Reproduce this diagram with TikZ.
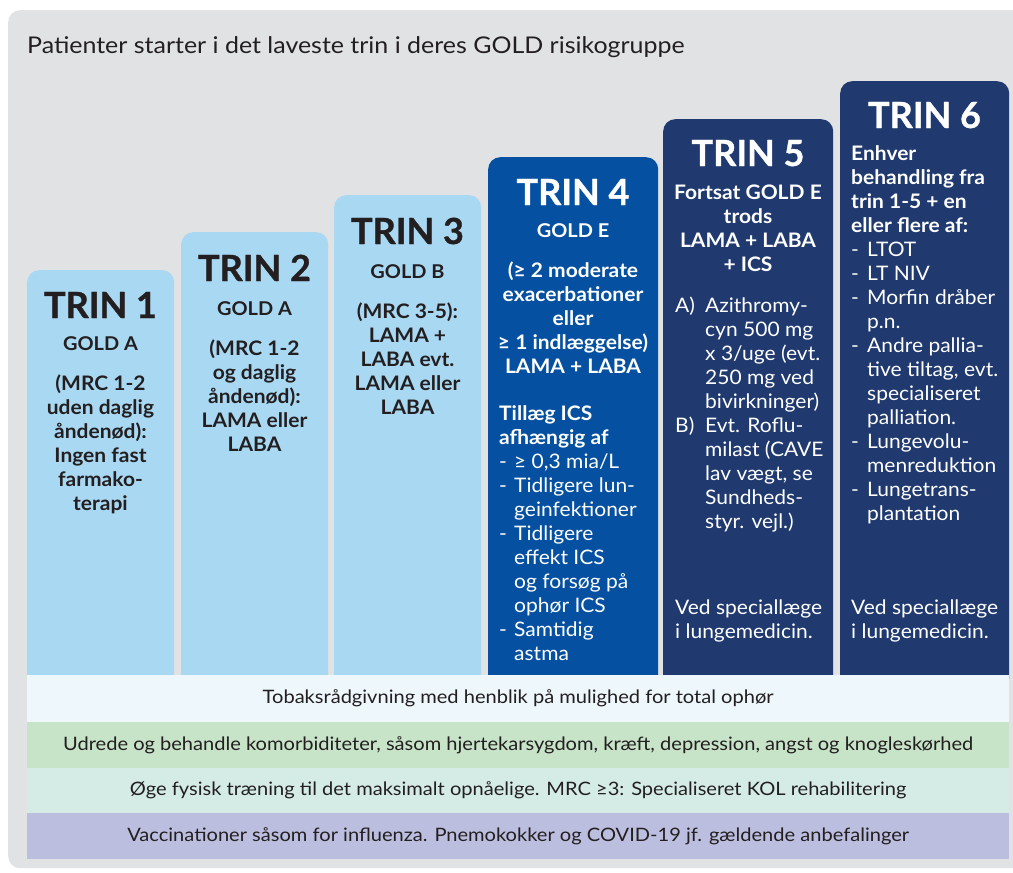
\documentclass[tikz,border=0pt]{standalone}
\usepackage{fontspec}
\setmainfont{Lato}
\newfontfamily\widefont[FakeStretch=1.085]{Lato}
\newfontfamily\bodyfont[FakeStretch=1.05]{Lato}
\newfontfamily\headfont[BoldFeatures={FakeBold=0.9}]{Lato}
\newcommand{\clines}[1]{\begin{tabular}[t]{@{}c@{}}#1\end{tabular}}
\newcommand{\llines}[1]{\begin{tabular}[t]{@{}l@{}}#1\end{tabular}}
\definecolor{panelgray}{RGB}{225,226,228}
\definecolor{lightblue}{RGB}{169,216,243}
\definecolor{midblue}{RGB}{5,80,160}
\definecolor{navy}{RGB}{32,58,112}
\definecolor{darktext}{RGB}{35,31,32}
\definecolor{bandA}{RGB}{238,247,252}
\definecolor{bandB}{RGB}{199,227,200}
\definecolor{bandC}{RGB}{213,236,230}
\definecolor{bandD}{RGB}{188,190,223}
\tikzset{
  colbox/.style={anchor=north west,inner sep=0pt,rounded corners=12pt},
  band/.style={anchor=north west,inner sep=0pt,minimum width=982pt,text=darktext,font=\widefont\fontsize{18.5}{22}\selectfont},
  heading/.style={anchor=base,inner sep=0pt,font=\headfont\bfseries\fontsize{36}{40}\selectfont},
  gold/.style={anchor=base,inner sep=0pt,font=\bodyfont\bfseries\fontsize{19}{24}\selectfont},
  cblock/.style={anchor=base,inner sep=0pt,font=\bodyfont\bfseries\fontsize{20}{24}\selectfont},
  lblock/.style={anchor=base west,inner sep=0pt,font=\bodyfont\bfseries\fontsize{20}{24}\selectfont},
  rblock/.style={anchor=base west,inner sep=0pt,font=\bodyfont\fontsize{20}{24}\selectfont},
}
\begin{document}
\begin{tikzpicture}[x=1pt,y=-1pt]
\useasboundingbox (0,0) rectangle (1013,873);
\fill[white] (0,0) rectangle (1013,873);
\node (panel) [anchor=north west,inner sep=0pt,fill=panelgray,rounded corners=12pt,minimum width=1030pt,minimum height=858pt] at (8,10) {};
\node (title) [anchor=base west,inner sep=0pt,text=darktext,font=\widefont\fontsize{23}{26}\selectfont] at (27,53) {Patienter starter i det laveste trin i deres GOLD risikogruppe};
% columns
\node (c1) [colbox,fill=lightblue,minimum width=147pt,minimum height=420pt] at (27,270) {};
\node (c2) [colbox,fill=lightblue,minimum width=147pt,minimum height=458pt] at (181,232) {};
\node (c3) [colbox,fill=lightblue,minimum width=147pt,minimum height=495pt] at (334,195) {};
\node (c4) [colbox,fill=midblue,minimum width=170pt,minimum height=533pt] at (488,157) {};
\node (c5) [colbox,fill=navy,minimum width=170pt,minimum height=571pt] at (663,119) {};
\node (c6) [colbox,fill=navy,minimum width=169pt,minimum height=609pt] at (840,81) {};
% bands
\node (b1) [band,fill=bandA,minimum height=47pt] at (27,675) {Tobaksrådgivning med henblik på mulighed for total ophør};
\node (b2) [band,fill=bandB,minimum height=46pt] at (27,722) {Udrede og behandle komorbiditeter, såsom hjertekarsygdom, kræft, depression, angst og knogleskørhed};
\node (b3) [band,fill=bandC,minimum height=45pt] at (27,768) {Øge fysisk træning til det maksimalt opnåelige. MRC ≥3: Specialiseret KOL rehabilitering};
\node (b4) [band,fill=bandD,minimum height=46pt] at (27,813) {Vaccinationer såsom for influenza. Pnemokokker og COVID-19 jf. gældende anbefalinger};
% column 1
\node (h1) [heading,text=darktext] at (100.5,318) {TRIN 1};
\node (g1) [gold,text=darktext] at (100.5,350) {GOLD A};
\node (t1) [cblock,text=darktext] at (100.5,390) {\clines{(MRC 1-2\\uden daglig\\åndenød):\\Ingen fast\\farmako-\\terapi}};
% column 2
\node (h2) [heading,text=darktext] at (254.5,281) {TRIN 2};
\node (g2) [gold,text=darktext] at (254.5,315) {GOLD A};
\node (t2) [cblock,text=darktext] at (254.5,355) {\clines{(MRC 1-2\\og daglig\\åndenød):\\LAMA eller\\LABA}};
% column 3
\node (h3) [heading,text=darktext] at (407.5,244) {TRIN 3};
\node (g3) [gold,text=darktext] at (407.5,278) {GOLD B};
\node (t3) [cblock,text=darktext] at (407.5,318) {\clines{(MRC 3-5):\\LAMA +\\LABA evt.\\LAMA eller\\LABA}};
% column 4
\node (h4) [heading,text=white] at (573,205) {TRIN 4};
\node (g4) [gold,text=white] at (573,237) {GOLD E};
\node (t4) [cblock,text=white] at (573,277) {\clines{(≥ 2 moderate\\exacerbationer\\eller\\≥ 1 indlæggelse)\\LAMA + LABA}};
\node (t4b) [lblock,text=white] at (499,420) {\llines{Tillæg ICS\\afhængig af}};
\node (d4a) [rblock,text=white] at (499,468) {-};
\node (i4a) [rblock,text=white] at (514,468) {≥ 0,3 mia/L};
\node (d4b) [rblock,text=white] at (499,492) {-};
\node (i4b) [rblock,text=white] at (514,492) {\llines{Tidligere lun-\\geinfektioner}};
\node (d4c) [rblock,text=white] at (499,540) {-};
\node (i4c) [rblock,text=white] at (514,540) {\llines{Tidligere\\effekt ICS\\og forsøg på\\ophør ICS}};
\node (d4d) [rblock,text=white] at (499,636) {-};
\node (i4d) [rblock,text=white] at (514,636) {\llines{Samtidig\\astma}};
% column 5
\node (h5) [heading,text=white] at (748,166) {TRIN 5};
\node (t5) [cblock,text=white] at (748,199) {\clines{Fortsat GOLD E\\trods\\LAMA + LABA\\+ ICS}};
\node (l5a) [rblock,text=white] at (675,312) {A)};
\node (i5a) [rblock,text=white] at (705,312) {\llines{Azithromy-\\cyn 500 mg\\x 3/uge (evt.\\250 mg ved\\bivirkninger)}};
\node (l5b) [rblock,text=white] at (675,432) {B)};
\node (i5b) [rblock,text=white] at (705,432) {\llines{Evt. Roflu-\\milast (CAVE\\lav vægt, se\\Sundheds-\\styr. vejl.)}};
\node (v5) [rblock,text=white] at (675,614) {\llines{Ved speciallæge\\i lungemedicin.}};
% column 6
\node (h6) [heading,text=white] at (924.5,128) {TRIN 6};
\node (t6) [lblock,text=white] at (851,160) {\llines{Enhver\\behandling fra\\trin 1-5 + en\\eller flere af:}};
\node (d6a) [rblock,text=white] at (851,256) {-};
\node (i6a) [rblock,text=white] at (867,256) {LTOT};
\node (d6b) [rblock,text=white] at (851,280) {-};
\node (i6b) [rblock,text=white] at (867,280) {LT NIV};
\node (d6c) [rblock,text=white] at (851,304) {-};
\node (i6c) [rblock,text=white] at (867,304) {\llines{Morfin dråber\\p.n.}};
\node (d6d) [rblock,text=white] at (851,352) {-};
\node (i6d) [rblock,text=white] at (867,352) {\llines{Andre pallia-\\tive tiltag, evt.\\specialiseret\\palliation.}};
\node (d6e) [rblock,text=white] at (851,448) {-};
\node (i6e) [rblock,text=white] at (867,448) {\llines{Lungevolu-\\menreduktion}};
\node (d6f) [rblock,text=white] at (851,496) {-};
\node (i6f) [rblock,text=white] at (867,496) {\llines{Lungetrans-\\plantation}};
\node (v6) [rblock,text=white] at (851,614) {\llines{Ved speciallæge\\i lungemedicin.}};
\end{tikzpicture}
\end{document}
